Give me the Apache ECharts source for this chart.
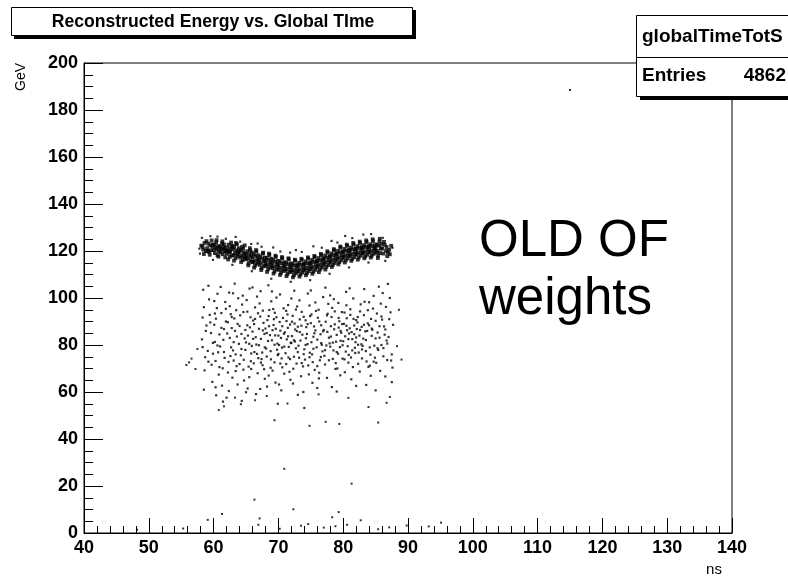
<!DOCTYPE html>
<html>
<head>
<meta charset="utf-8">
<script src="https://cdn.jsdelivr.net/npm/echarts@6/dist/echarts.min.js"></script>
<style>
html,body{margin:0;padding:0;background:#fff;}
#chart{width:788px;height:578px;}
</style>
</head>
<body>
<div id="chart"></div>
<script>
// ---- Data ----
const titleText = 'Reconstructed Energy vs. Global TIme';
const statsName = 'globalTimeTotS';
const statsEntries = '4862';
const xLabel = 'ns';
const yLabel = 'GeV';
const noteLines = ['OLD OF', 'weights'];
const xRange = [40, 140];
const yRange = [0, 200];

// dense band of events near 113-122 GeV
const bandPoints = [
[58.1,122.3],[58.4,120.6],[58.6,123.4],[58.8,119.9],[58.3,121.8],[58.9,124.2],[58.5,118.7],
[59.0,121.2],[59.2,123.1],[59.3,119.6],[59.5,122.4],[59.6,120.3],[59.7,124.5],[59.8,121.9],[59.4,118.4],[59.9,122.8],[59.1,120.1],
[60.0,120.4],[60.1,122.6],[60.2,119.1],[60.3,121.5],[60.4,123.7],[60.5,120.8],[60.6,118.2],[60.7,122.1],[60.8,119.8],[60.9,121.3],[60.45,124.6],[60.75,117.6],
[61.0,121.9],[61.1,119.4],[61.2,120.7],[61.3,123.2],[61.4,118.6],[61.5,121.1],[61.6,122.8],[61.7,119.9],[61.8,117.3],[61.9,120.2],[61.35,124.1],[61.65,121.6],
[62.0,118.8],[62.1,121.4],[62.2,120.1],[62.3,122.7],[62.4,119.3],[62.5,117.5],[62.6,120.9],[62.7,123.6],[62.8,118.1],[62.9,121.7],[62.25,116.4],[62.55,119.7],[62.85,122.2],
[63.0,120.6],[63.1,118.2],[63.2,121.8],[63.3,119.0],[63.4,116.9],[63.5,120.3],[63.6,122.9],[63.7,117.8],[63.8,119.6],[63.9,121.2],[63.15,115.9],[63.45,123.4],[63.75,118.7],
[64.0,119.7],[64.1,117.2],[64.2,120.5],[64.3,118.0],[64.4,121.8],[64.5,116.1],[64.6,119.3],[64.7,117.6],[64.8,122.4],[64.9,118.9],[64.25,115.3],[64.55,120.9],[64.85,116.7],
[65.0,118.3],[65.1,116.5],[65.2,119.9],[65.3,117.1],[65.4,114.8],[65.5,118.6],[65.6,121.2],[65.7,116.0],[65.8,117.8],[65.9,119.4],[65.35,113.9],[65.65,120.3],[65.95,115.4],
[66.0,117.4],[66.1,115.2],[66.2,118.7],[66.3,116.0],[66.4,113.8],[66.5,117.9],[66.6,119.8],[66.7,114.6],[66.8,116.7],[66.9,118.2],[66.25,112.9],[66.55,120.4],[66.85,115.5],
[67.0,116.3],[67.1,114.1],[67.2,117.6],[67.3,115.0],[67.4,112.7],[67.5,116.8],[67.6,118.9],[67.7,113.5],[67.8,115.7],[67.9,117.2],[67.35,111.9],[67.65,119.3],[67.95,114.4],
[68.0,115.8],[68.1,113.6],[68.2,117.1],[68.3,114.4],[68.4,112.2],[68.5,116.2],[68.6,118.3],[68.7,113.0],[68.8,115.2],[68.9,116.7],[68.25,111.1],[68.55,118.9],[68.85,114.0],
[69.0,114.9],[69.1,112.7],[69.2,116.3],[69.3,113.5],[69.4,111.3],[69.5,115.4],[69.6,117.5],[69.7,112.1],[69.8,114.3],[69.9,115.8],[69.25,110.4],[69.55,118.0],[69.85,113.1],
[70.0,114.2],[70.1,112.0],[70.2,115.7],[70.3,112.9],[70.4,110.7],[70.5,114.8],[70.6,116.9],[70.7,111.5],[70.8,113.6],[70.9,115.2],[70.25,109.8],[70.55,117.4],[70.85,112.4],
[71.0,113.8],[71.1,111.6],[71.2,115.1],[71.3,112.4],[71.4,110.2],[71.5,114.3],[71.6,116.4],[71.7,111.0],[71.8,113.1],[71.9,114.7],[71.25,109.3],[71.55,116.9],[71.85,111.9],
[72.0,113.3],[72.1,111.1],[72.2,114.6],[72.3,111.9],[72.4,109.7],[72.5,113.8],[72.6,115.9],[72.7,110.5],[72.8,112.6],[72.9,114.2],[72.25,108.8],[72.55,116.3],[72.85,111.3],
[73.0,113.6],[73.1,111.4],[73.2,115.0],[73.3,112.2],[73.4,110.0],[73.5,114.1],[73.6,116.2],[73.7,110.8],[73.8,113.0],[73.9,114.5],[73.25,109.1],[73.55,116.7],[73.85,111.7],
[74.0,114.3],[74.1,112.1],[74.2,115.6],[74.3,112.8],[74.4,110.6],[74.5,114.7],[74.6,116.8],[74.7,111.4],[74.8,113.5],[74.9,115.1],[74.25,109.7],[74.55,117.3],[74.85,112.3],
[75.0,114.8],[75.1,112.6],[75.2,116.2],[75.3,113.4],[75.4,111.2],[75.5,115.3],[75.6,117.4],[75.7,112.0],[75.8,114.2],[75.9,115.7],[75.25,110.3],[75.55,117.9],[75.85,113.0],
[76.0,115.7],[76.1,113.5],[76.2,117.0],[76.3,114.3],[76.4,112.1],[76.5,116.1],[76.6,118.2],[76.7,112.9],[76.8,115.1],[76.9,116.6],[76.25,111.0],[76.55,118.8],[76.85,113.9],
[77.0,116.8],[77.1,114.6],[77.2,118.1],[77.3,115.4],[77.4,113.2],[77.5,117.2],[77.6,119.3],[77.7,114.0],[77.8,116.2],[77.9,117.7],[77.25,112.1],[77.55,119.9],[77.85,115.0],
[78.0,117.7],[78.1,115.5],[78.2,119.0],[78.3,116.3],[78.4,114.1],[78.5,118.2],[78.6,120.3],[78.7,114.9],[78.8,117.1],[78.9,118.6],[78.25,113.2],[78.55,120.8],[78.85,116.0],
[79.0,118.8],[79.1,116.6],[79.2,120.1],[79.3,117.4],[79.4,115.2],[79.5,119.3],[79.6,121.4],[79.7,116.0],[79.8,118.2],[79.9,119.7],[79.25,114.3],[79.55,121.9],[79.85,117.0],
[80.0,119.6],[80.1,117.4],[80.2,120.9],[80.3,118.2],[80.4,116.0],[80.5,120.1],[80.6,122.2],[80.7,116.8],[80.8,119.0],[80.9,120.5],[80.25,115.1],[80.55,122.7],[80.85,117.9],
[81.0,120.2],[81.1,118.0],[81.2,121.5],[81.3,118.8],[81.4,116.6],[81.5,120.7],[81.6,122.8],[81.7,117.4],[81.8,119.6],[81.9,121.1],[81.25,115.8],[81.55,123.4],[81.85,118.5],
[82.0,120.8],[82.1,118.6],[82.2,122.1],[82.3,119.4],[82.4,117.2],[82.5,121.3],[82.6,123.4],[82.7,118.0],[82.8,120.2],[82.9,121.7],[82.25,116.3],[82.55,124.0],[82.85,119.0],
[83.0,121.2],[83.1,119.0],[83.2,122.5],[83.3,119.8],[83.4,117.6],[83.5,121.7],[83.6,123.8],[83.7,118.4],[83.8,120.6],[83.9,122.1],[83.25,116.9],[83.55,124.5],[83.85,119.5],
[84.0,121.6],[84.1,119.4],[84.2,122.9],[84.3,120.2],[84.4,118.0],[84.5,122.1],[84.6,124.2],[84.7,118.8],[84.8,121.0],[84.9,122.5],[84.25,117.2],[84.55,125.0],[84.85,120.1],
[85.0,121.4],[85.1,119.3],[85.2,122.8],[85.3,120.0],[85.4,118.1],[85.5,122.3],[85.6,124.1],[85.7,119.1],[85.8,121.1],[85.9,123.0],[85.35,117.0],[85.65,125.2],
[86.0,121.0],[86.2,118.9],[86.4,122.6],[86.6,120.1],[86.8,117.8],[86.3,123.9],[86.7,121.7],[86.9,119.4],
[87.1,120.5],[87.4,122.2],[87.2,118.6]
];

// lighter fringe around the band
const bandHalo = [
[63.4,126.0],[69.2,121.5],[80.3,126.4],[83.1,127.0],[60.6,126.1],[75.4,122.0],[78.2,124.3],[66.8,123.2],[72.7,120.4],[58.2,125.6],
[59.5,126.3],[61.9,125.2],[64.1,124.0],[65.8,123.0],[67.4,121.8],[70.3,119.8],[71.8,119.3],[73.6,119.6],[76.7,121.4],[79.1,123.6],
[81.4,125.5],[84.3,127.2],[86.1,125.6],[59.9,116.2],[62.9,114.1],[65.9,111.4],[68.9,108.2],[71.9,106.9],[74.9,107.6],[77.9,110.3],
[80.9,113.0],[83.9,115.1],[86.5,115.8],[57.8,121.0],[57.9,118.9],[87.6,121.4]
];

// diffuse cloud of events between ~50 and ~108 GeV
const cloudPoints = [
[58.2,82.4],[58.5,96.1],[58.7,74.8],[58.9,88.3],[58.4,103.5],[58.6,69.2],[58.3,91.7],
[59.1,77.5],[59.3,99.4],[59.6,85.1],[59.8,64.3],[59.4,92.8],[59.7,71.6],[59.2,105.2],[59.9,80.9],
[60.1,88.6],[60.3,73.2],[60.5,95.7],[60.8,67.4],[60.2,81.3],[60.6,101.8],[60.9,84.5],[60.4,58.6],[60.7,76.9],[60.35,91.2],
[61.0,79.4],[61.2,93.6],[61.4,70.1],[61.6,86.8],[61.8,98.3],[61.3,62.7],[61.5,82.2],[61.7,74.5],[61.9,90.0],[61.1,104.7],[61.45,55.9],
[62.1,84.9],[62.3,72.8],[62.5,96.5],[62.7,79.0],[62.9,66.1],[62.2,89.7],[62.4,102.3],[62.6,75.3],[62.8,87.2],[62.35,60.4],[62.65,93.1],
[63.0,77.7],[63.2,91.3],[63.4,68.9],[63.6,83.6],[63.8,99.9],[63.1,73.4],[63.3,86.0],[63.5,94.8],[63.7,63.2],[63.9,80.5],[63.25,106.1],[63.55,71.0],
[64.0,88.1],[64.2,75.6],[64.4,97.2],[64.6,69.5],[64.8,82.8],[64.1,92.6],[64.3,78.3],[64.5,101.0],[64.7,64.9],[64.9,86.4],[64.35,56.2],[64.65,73.7],
[65.0,81.1],[65.2,94.2],[65.4,70.8],[65.6,87.5],[65.8,76.4],[65.1,99.1],[65.3,84.0],[65.5,66.3],[65.7,91.8],[65.9,79.6],[65.25,61.5],[65.55,104.0],[65.75,73.1],
[66.0,85.7],[66.2,72.2],[66.4,96.0],[66.6,80.2],[66.8,68.0],[66.1,90.4],[66.3,77.0],[66.5,83.3],[66.7,100.6],[66.9,74.4],[66.25,88.9],[66.55,59.1],[66.85,93.5],
[67.0,79.9],[67.2,92.1],[67.4,74.0],[67.6,86.2],[67.8,69.7],[67.1,97.7],[67.3,82.6],[67.5,76.8],[67.7,89.4],[67.9,65.6],[67.25,102.9],[67.55,71.4],[67.85,84.7],
[68.0,87.0],[68.2,75.1],[68.4,81.7],[68.6,94.9],[68.8,70.3],[68.1,78.5],[68.3,90.6],[68.5,67.0],[68.7,84.2],[68.9,98.6],[68.25,62.3],[68.55,88.0],[68.85,73.9],[68.45,105.4],
[69.0,82.0],[69.2,95.3],[69.4,72.6],[69.6,86.9],[69.8,78.0],[69.1,69.1],[69.3,91.0],[69.5,84.1],[69.7,100.2],[69.9,75.7],[69.25,88.5],[69.55,64.0],[69.85,80.6],[69.45,93.7],
[70.0,76.2],[70.2,89.8],[70.4,83.0],[70.6,70.5],[70.8,95.6],[70.1,80.0],[70.3,86.1],[70.5,74.3],[70.7,91.5],[70.9,67.8],[70.25,101.5],[70.55,78.9],[70.85,84.8],[70.45,60.7],
[71.0,85.4],[71.2,71.9],[71.4,93.0],[71.6,79.2],[71.8,88.7],[71.1,76.5],[71.3,82.4],[71.5,97.0],[71.7,68.6],[71.9,81.0],[71.25,90.2],[71.55,74.7],[71.85,65.2],[71.45,87.3],
[72.0,80.8],[72.2,92.4],[72.4,75.0],[72.6,86.6],[72.8,72.1],[72.1,83.8],[72.3,69.9],[72.5,89.1],[72.7,78.6],[72.9,96.4],[72.25,63.6],[72.55,81.5],[72.85,85.9],[72.45,103.1],
[73.0,87.8],[73.2,74.6],[73.4,81.9],[73.6,94.1],[73.8,70.9],[73.1,79.7],[73.3,90.9],[73.5,66.7],[73.7,84.4],[73.9,76.1],[73.25,99.0],[73.55,88.2],[73.85,60.0],
[74.0,78.2],[74.2,90.5],[74.4,84.7],[74.6,71.3],[74.8,96.8],[74.1,73.8],[74.3,87.6],[74.5,80.4],[74.7,67.5],[74.9,92.3],[74.25,82.9],[74.55,101.9],[74.85,76.7],
[75.0,89.3],[75.2,76.0],[75.4,83.5],[75.6,69.4],[75.8,94.5],[75.1,81.2],[75.3,72.7],[75.5,87.9],[75.7,98.1],[75.9,79.0],[75.25,63.9],[75.55,85.0],
[76.0,82.3],[76.2,95.0],[76.4,73.5],[76.6,88.4],[76.8,77.3],[76.1,91.6],[76.3,68.2],[76.5,84.6],[76.7,80.1],[76.9,100.4],[76.25,65.8],[76.55,74.9],
[77.0,86.4],[77.2,71.7],[77.4,79.8],[77.6,93.3],[77.8,83.1],[77.1,75.4],[77.3,89.9],[77.5,66.0],[77.7,97.5],[77.9,80.7],[77.25,104.4],[77.55,85.6],
[78.0,79.3],[78.2,91.9],[78.4,74.1],[78.6,86.7],[78.8,69.8],[78.1,83.6],[78.3,95.8],[78.5,77.7],[78.7,88.8],[78.9,81.4],[78.25,62.1],[78.55,99.5],[78.85,72.3],
[79.0,84.3],[79.2,76.3],[79.4,90.1],[79.6,81.8],[79.8,94.0],[79.1,70.0],[79.3,87.4],[79.5,79.1],[79.7,85.2],[79.9,74.2],[79.25,97.9],[79.55,67.1],[79.85,88.9],
[80.0,81.6],[80.2,93.8],[80.4,77.2],[80.6,86.3],[80.8,72.5],[80.1,89.0],[80.3,83.7],[80.5,96.9],[80.7,79.5],[80.9,84.9],[80.25,68.4],[80.55,91.4],[80.85,75.8],[80.45,102.6],
[81.0,87.1],[81.2,74.7],[81.4,82.5],[81.6,91.1],[81.8,78.8],[81.1,95.2],[81.3,85.5],[81.5,70.6],[81.7,88.3],[81.9,81.2],[81.25,65.4],[81.55,99.8],[81.85,76.6],
[82.0,83.2],[82.2,89.6],[82.4,76.8],[82.6,94.3],[82.8,80.3],[82.1,86.8],[82.3,72.0],[82.5,84.0],[82.7,97.3],[82.9,78.1],[82.25,91.9],[82.55,68.7],[82.85,87.7],
[83.0,79.6],[83.2,92.7],[83.4,85.8],[83.6,73.0],[83.8,89.2],[83.1,82.7],[83.3,98.4],[83.5,77.4],[83.7,86.0],[83.9,70.7],[83.25,103.8],[83.55,63.0],
[84.0,88.4],[84.2,75.9],[84.4,83.9],[84.6,95.5],[84.8,79.7],[84.1,71.2],[84.3,91.1],[84.5,86.5],[84.7,100.9],[84.9,74.6],[84.25,66.9],
[85.0,82.8],[85.2,93.4],[85.4,77.9],[85.6,88.0],[85.8,97.6],[85.1,72.4],[85.3,85.3],[85.5,104.8],[85.7,69.0],[85.9,80.0],
[86.0,90.8],[86.2,78.7],[86.4,84.4],[86.6,96.2],[86.8,73.6],[86.1,102.1],[86.3,87.9],[86.5,66.6],[86.7,81.9],
[87.0,83.4],[87.3,93.9],[87.5,76.0],[87.7,88.6],[87.2,100.0],[87.6,70.4]
];

// further cloud events filling the core (70-95 GeV)
const cloudCore = [
[58.3,79.1],[58.8,86.0],[59.2,72.9],[59.5,89.6],[59.9,76.3],[60.2,93.4],[60.6,79.8],[60.9,70.6],[61.2,87.3],[61.6,77.0],
[61.9,95.4],[62.2,68.3],[62.5,83.0],[62.8,91.9],[63.1,81.2],[63.4,76.0],[63.7,89.0],[64.0,71.9],[64.3,84.7],[64.6,94.0],
[64.9,77.9],[65.2,88.4],[65.5,80.5],[65.8,69.8],[66.1,82.6],[66.4,91.1],[66.7,76.2],[67.0,86.9],[67.3,72.5],[67.6,94.6],
[67.9,79.0],[68.2,85.1],[68.5,92.3],[68.8,77.4],[69.1,86.3],[69.4,80.1],[69.7,91.8],[70.0,84.0],[70.3,72.1],[70.6,88.0],
[70.9,79.3],[71.2,94.5],[71.5,83.7],[71.8,74.0],[72.1,89.9],[72.4,82.0],[72.7,95.1],[73.0,77.0],[73.3,85.5],[73.6,72.3],
[73.9,92.0],[74.2,80.0],[74.5,88.9],[74.8,74.8],[75.1,93.0],[75.4,78.4],[75.7,86.2],[76.0,71.0],[76.3,90.0],[76.6,80.8],
[76.9,85.8],[77.2,77.8],[77.5,92.6],[77.8,73.5],[78.1,88.0],[78.4,81.0],[78.7,94.3],[79.0,77.0],[79.3,91.5],[79.6,86.0],
[79.9,79.9],[80.2,73.9],[80.5,88.2],[80.8,82.5],[81.1,92.8],[81.4,77.7],[81.7,84.6],[82.0,90.6],[82.3,80.1],[82.6,86.4],
[82.9,74.3],[83.2,88.6],[83.5,82.1],[83.8,94.8],[84.1,79.0],[84.4,87.0],[84.7,72.9],[85.0,90.3],[85.3,78.6],[85.6,83.1],
[85.9,92.1],[86.2,75.2],[86.5,86.6],[86.8,80.6],[87.1,91.0],[87.4,73.4],
[60.1,98.7],[63.0,102.0],[66.0,104.5],[69.0,102.8],[72.0,99.8],[75.0,103.2],[78.0,101.1],[81.0,104.1],[84.0,98.2],[86.9,106.0],
[60.3,62.0],[62.0,57.6],[65.0,59.9],[67.2,61.3],[70.1,63.2],[73.0,58.8],[76.0,61.7],[79.0,60.2],[82.0,62.6],[85.0,60.7],
[69.9,55.0],[74.0,53.2],[58.5,61.0],[87.5,64.2]
];

// isolated events (tails)
const sparsePoints = [
[55.8,71.5],[56.6,74.2],[57.2,69.8],[57.5,78.3],[56.2,72.6],[88.3,79.5],[89.0,73.8],[88.6,95.0],
[64.2,54.8],[61.6,53.9],[69.4,48.0],[74.8,45.6],[77.3,47.3],[79.4,46.4],[85.4,47.0],[83.9,53.6],
[86.7,55.4],[87.2,57.9],[63.3,57.6],[60.8,52.3],[66.4,56.5],[68.2,58.3],[71.4,55.1],[76.2,59.0],[80.8,57.5],
[70.9,27.3],[66.3,14.2],[72.3,10.1],[74.6,3.8],[67.1,6.2],[61.3,8.1],[66.9,3.5],[70.2,1.8],[73.5,3.1],
[77.0,2.3],[78.3,6.7],[79.3,8.9],[78.8,2.9],[80.6,3.5],[81.3,21.0],[82.7,5.4],[85.4,1.6],[87.1,2.4],
[89.8,3.2],[93.2,2.8],[95.1,4.4],[55.3,1.9],[48.2,1.4],[59.1,5.6],[115.0,188.5]
];

// ---- Chart ----
const FONT = '"Liberation Sans", Arial, Helvetica, sans-serif';
const chart = echarts.init(document.getElementById('chart'), null, {renderer: 'canvas'});

const dotStyle = {color: '#000'};
const option = {
  animation: false,
  backgroundColor: '#fff',
  grid: {left: 84, right: 56, top: 63, bottom: 45, show: true, borderColor: '#000', borderWidth: 1, backgroundColor: 'transparent'},
  xAxis: {
    type: 'value', min: xRange[0], max: xRange[1], interval: 10,
    axisLine: {show: true, onZero: false, lineStyle: {color: '#000', width: 1}},
    axisTick: {show: true, inside: true, length: 15, lineStyle: {color: '#000'}},
    minorTick: {show: true, splitNumber: 5, length: 7, lineStyle: {color: '#000'}},
    splitLine: {show: false},
    axisLabel: {color: '#000', fontFamily: FONT, fontWeight: 'bold', fontSize: 18, margin: 6}
  },
  yAxis: {
    type: 'value', min: yRange[0], max: yRange[1], interval: 20,
    axisLine: {show: true, onZero: false, lineStyle: {color: '#000', width: 1}},
    axisTick: {show: true, inside: true, length: 19, lineStyle: {color: '#000'}},
    minorTick: {show: true, splitNumber: 4, length: 9, lineStyle: {color: '#000'}},
    splitLine: {show: false},
    axisLabel: {color: '#000', fontFamily: FONT, fontWeight: 'bold', fontSize: 18, margin: 6}
  },
  series: [
    {type: 'scatter', data: cloudPoints, symbol: 'rect', symbolSize: 2.2, itemStyle: dotStyle, silent: true},
    {type: 'scatter', data: cloudCore, symbol: 'rect', symbolSize: 2.2, itemStyle: dotStyle, silent: true},
    {type: 'scatter', data: sparsePoints, symbol: 'rect', symbolSize: 2, itemStyle: dotStyle, silent: true},
    {type: 'scatter', data: bandHalo, symbol: 'rect', symbolSize: 2.2, itemStyle: dotStyle, silent: true},
    {type: 'scatter', data: bandPoints, symbol: 'rect', symbolSize: 3.8, itemStyle: dotStyle, silent: true}
  ],
  graphic: [
    // title box with shadow
    {type: 'rect', z: 100, shape: {x: 14, y: 10, width: 402, height: 29}, style: {fill: '#000'}},
    {type: 'rect', z: 101, shape: {x: 11.5, y: 7.5, width: 401, height: 28}, style: {fill: '#fff', stroke: '#000', lineWidth: 1}},
    {type: 'text', z: 102, x: 213, y: 22, style: {text: titleText, font: 'bold 17.6px ' + FONT, fill: '#000', textAlign: 'center', textVerticalAlign: 'middle'}},
    // stats box with shadow
    {type: 'rect', z: 100, shape: {x: 640, y: 19, width: 160, height: 81}, style: {fill: '#000'}},
    {type: 'rect', z: 101, shape: {x: 636.5, y: 15.5, width: 160, height: 81}, style: {fill: '#fff', stroke: '#000', lineWidth: 1}},
    {type: 'line', z: 102, shape: {x1: 636, y1: 57.5, x2: 788, y2: 57.5}, style: {stroke: '#000', lineWidth: 1}},
    {type: 'text', z: 102, x: 642, y: 37, style: {text: statsName, font: 'bold 19px ' + FONT, fill: '#000', textVerticalAlign: 'middle'}},
    {type: 'text', z: 102, x: 642, y: 76, style: {text: 'Entries', font: 'bold 19px ' + FONT, fill: '#000', textVerticalAlign: 'middle'}},
    {type: 'text', z: 102, x: 786, y: 76, style: {text: statsEntries, font: 'bold 19px ' + FONT, fill: '#000', textAlign: 'right', textVerticalAlign: 'middle'}},
    // axis titles
    {type: 'text', z: 102, x: 21, y: 77, rotation: Math.PI / 2, style: {text: yLabel, font: '14px ' + FONT, fill: '#000', textAlign: 'center', textVerticalAlign: 'middle'}},
    {type: 'text', z: 102, x: 714, y: 570, style: {text: xLabel, font: '15px ' + FONT, fill: '#000', textAlign: 'center', textVerticalAlign: 'middle'}},
    // annotation
    {type: 'text', z: 102, x: 479, y: 267, style: {text: noteLines[0], font: '51px ' + FONT, fill: '#000', textVerticalAlign: 'bottom'}},
    {type: 'text', z: 102, x: 479, y: 325, style: {text: noteLines[1], font: '51px ' + FONT, fill: '#000', textVerticalAlign: 'bottom'}}
  ]
};
chart.setOption(option);
</script>
</body>
</html>
